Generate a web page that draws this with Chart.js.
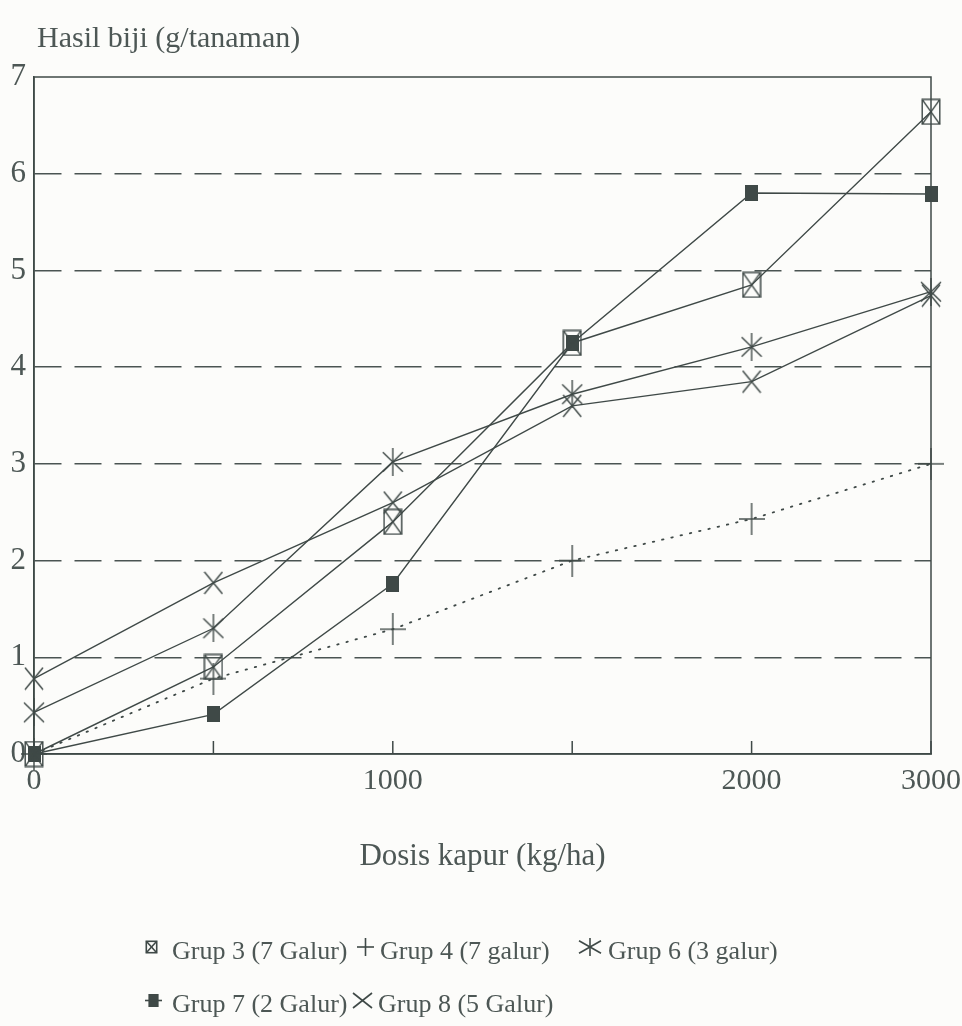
<!DOCTYPE html>
<html>
<head>
<meta charset="utf-8">
<script src="https://cdn.jsdelivr.net/npm/chart.js@4/dist/chart.umd.min.js"></script>
<style>
  html, body { margin: 0; background: #fcfcfa; }
  #wrap { position: relative; width: 962px; height: 1026px; }
  #ytitle { position: absolute; left: 37px; top: 22px; font: 30px/30px 'Liberation Serif', serif; color: #4d5755; white-space: nowrap; }
  .leg { position: absolute; font: 26px/28px 'Liberation Serif', serif; color: #4d5755; white-space: nowrap; }
</style>
</head>
<body>
<div id="wrap">
  <canvas id="chart" width="962" height="1026"></canvas>
  <div id="ytitle">Hasil biji (g/tanaman)</div>
</div>
<script>
// dosis kapur (kg/ha) and tick labels
const doses = [0, 500, 1000, 1500, 2000, 3000]
const tickLabels = ['0', '', '1000', '', '2000', '3000']

const seriesNames = ['Grup 3 (7 Galur)', 'Grup 4 (7 galur)', 'Grup 6 (3 galur)', 'Grup 7 (2 Galur)', 'Grup 8 (5 Galur)']

// hasil biji (g/tanaman)
const grup3 = [0, 0.9, 2.4, 4.25, 4.85, 6.64]
const grup4 = [0, 0.78, 1.29, 2.0, 2.43, 3.0]
const grup6 = [0.43, 1.3, 3.02, 3.72, 4.21, 4.78]
const grup7 = [0, 0.41, 1.76, 4.25, 5.8, 5.79]
const grup8 = [0.78, 1.77, 2.6, 3.6, 3.85, 4.74]

const ink = '#3f4947'
const textInk = '#4d5755'

// marker glyphs, drawn into small canvases so they can be used as pointStyle
function makeMarker(kind, w, h, lw = 1.4) {
  const c = document.createElement('canvas')
  c.width = w
  c.height = h
  const g = c.getContext('2d')
  g.strokeStyle = ink
  g.fillStyle = ink
  g.lineWidth = lw
  const line = (x1, y1, x2, y2) => { g.beginPath(); g.moveTo(x1, y1); g.lineTo(x2, y2); g.stroke() }
  const m = lw / 2 + 0.5
  if (kind === 'boxx') {
    g.strokeRect(m, m, w - 2 * m, h - 2 * m)
    line(m, m, w - m, h - m)
    line(w - m, m, m, h - m)
  } else if (kind === 'plus') {
    line(w / 2, 0, w / 2, h)
    line(0, h / 2, w, h / 2)
  } else if (kind === 'star') {
    line(w / 2, 0, w / 2, h)
    line(1, h * 0.15, w - 1, h * 0.85)
    line(w - 1, h * 0.15, 1, h * 0.85)
  } else if (kind === 'square') {
    g.fillRect(0, 0, w, h)
  } else if (kind === 'squareLine') {
    g.fillRect(w * 0.2, 0, w * 0.6, h)
    line(0, h / 2, w, h / 2)
  } else if (kind === 'cross') {
    line(1, 1, w - 1, h - 1)
    line(w - 1, 1, 1, h - 1)
  }
  return c
}

const markers = [['boxx', 20, 27], ['plus', 26, 32], ['star', 22, 28], ['square', 13, 16], ['cross', 20, 24]]
const legendMarkers = [['boxx', 13, 14], ['plus', 17, 18], ['star', 24, 18], ['squareLine', 17, 13], ['cross', 21, 17]]

function makeDataset(label, data, marker, dotted) {
  return {
    label,
    data,
    borderColor: ink,
    backgroundColor: ink,
    borderWidth: dotted ? 1.8 : 1.4,
    borderDash: dotted ? [1.5, 8] : [],
    borderCapStyle: dotted ? 'round' : 'butt',
    pointStyle: makeMarker(...marker),
    tension: 0,
    clip: false,
  }
}

const frame = {
  id: 'frame',
  afterDatasetsDraw(chart) {
    const { ctx, chartArea: a } = chart
    const x = chart.scales.x
    ctx.save()
    ctx.strokeStyle = ink
    ctx.lineWidth = 1.5
    ctx.strokeRect(a.left, a.top, a.right - a.left, a.bottom - a.top)
    // short ticks pointing into the plot
    doses.forEach((_, i) => {
      const px = x.getPixelForValue(i)
      ctx.beginPath()
      ctx.moveTo(px, a.bottom)
      ctx.lineTo(px, a.bottom - 13)
      ctx.stroke()
    })
    ctx.restore()
  }
}

Chart.defaults.font.family = "'Liberation Serif', serif"
Chart.defaults.color = textInk

new Chart(document.getElementById('chart'), {
  type: 'line',
  data: {
    labels: doses,
    datasets: [
      makeDataset(seriesNames[0], grup3, markers[0], false),
      makeDataset(seriesNames[1], grup4, markers[1], true),
      makeDataset(seriesNames[2], grup6, markers[2], false),
      makeDataset(seriesNames[3], grup7, markers[3], false),
      makeDataset(seriesNames[4], grup8, markers[4], false),
    ]
  },
  options: {
    responsive: false,
    animation: false,
    devicePixelRatio: 1,
    layout: { padding: { top: 77, left: 0, right: 31, bottom: 150 } },
    plugins: {
      legend: { display: false },
      tooltip: { enabled: false },
    },
    scales: {
      x: {
        afterFit: scale => {
          scale.height = 122
          scale.paddingLeft = 0
          scale.paddingRight = 0
        },
        grid: { display: false, drawTicks: false },
        border: { display: true, color: ink, width: 1.5 },
        ticks: {
          autoSkip: false,
          maxRotation: 0,
          padding: 9,
          font: { size: 30 },
          callback: (v, i) => tickLabels[i],
        },
        title: {
          display: true,
          text: 'Dosis kapur (kg/ha)',
          font: { size: 31 },
          padding: { top: 0, bottom: 1 },
        },
      },
      y: {
        min: 0,
        max: 7,
        afterFit: scale => { scale.width = 34 },
        ticks: { stepSize: 1, padding: 8, font: { size: 31 } },
        grid: {
          drawTicks: false,
          lineWidth: 1.4,
          color: ctx => (ctx.tick && (ctx.tick.value === 0 || ctx.tick.value === 7)) ? 'rgba(0,0,0,0)' : '#4a5452',
        },
        border: { display: true, color: ink, width: 1.5, dash: [27, 13] },
      },
    },
  },
  plugins: [frame],
})

// legend below the chart, two rows as in the print
const legendSlots = [[145, 937], [357, 937], [578, 937], [145, 990], [352, 990]]
const legendTextX = [172, 380, 608, 172, 378]
const wrap = document.getElementById('wrap')
seriesNames.forEach((name, i) => {
  const [ix, top] = legendSlots[i]
  const icon = makeMarker(...legendMarkers[i], 1.6)
  icon.style.position = 'absolute'
  icon.style.left = ix + 'px'
  icon.style.top = (top + 10 - icon.height / 2) + 'px'
  wrap.appendChild(icon)
  const t = document.createElement('div')
  t.className = 'leg'
  t.style.left = legendTextX[i] + 'px'
  t.style.top = top + 'px'
  t.textContent = name
  wrap.appendChild(t)
})
</script>
</body>
</html>
